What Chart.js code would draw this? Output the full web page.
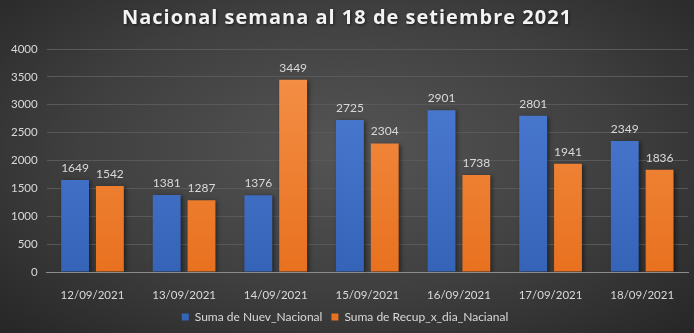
<!DOCTYPE html>
<html lang="es">
	<head>
		<meta charset="UTF-8" />
		<title>Nacional semana al 18 de setiembre 2021</title>
		<script src="https://cdn.jsdelivr.net/npm/chart.js@4"></script>
		<style>
			html,
			body {
				margin: 0;
				padding: 0;
			}
			body {
				width: 694px;
				height: 333px;
				background: radial-gradient(ellipse at 50% 45%, #555555 0%, #3f3f3f 55%, #262626 100%);
			}
			.chart-container {
				position: relative;
				width: 694px;
				height: 333px;
			}
		</style>
	</head>
	<body>
		<div class="chart-container">
			<canvas id="weekly-chart"></canvas>
		</div>
		<script>
			// Data
			const fechas = ['12/09/2021', '13/09/2021', '14/09/2021', '15/09/2021', '16/09/2021', '17/09/2021', '18/09/2021']
			const nuevNacional = [1649, 1381, 1376, 2725, 2901, 2801, 2349]
			const recupNacional = [1542, 1287, 3449, 2304, 1738, 1941, 1836]
			const yTicks = [0, 500, 1000, 1500, 2000, 2500, 3000, 3500, 4000]

			const FONT = 'Lato, "Open Sans", sans-serif'

			// vertical gradient for bars
			function barGradient(top, bottom) {
				return function (context) {
					const area = context.chart.chartArea
					if (!area) return bottom
					const g = context.chart.ctx.createLinearGradient(0, area.top, 0, area.bottom)
					g.addColorStop(0, top)
					g.addColorStop(1, bottom)
					return g
				}
			}

			// Value labels above the bars
			const valueLabels = {
				id: 'valueLabels',
				afterDatasetsDraw(chart) {
					const ctx = chart.ctx
					ctx.save()
					ctx.font = '12px ' + FONT
					ctx.fillStyle = '#d9d9d9'
					ctx.textAlign = 'center'
					ctx.textBaseline = 'bottom'
					chart.data.datasets.forEach((ds, i) => {
						chart.getDatasetMeta(i).data.forEach((bar, j) => {
							ctx.fillText(ds.data[j], bar.x, bar.y - 6)
						})
					})
					ctx.restore()
				},
			}

			// Soft shadow under bars
			const barShadow = {
				id: 'barShadow',
				beforeDatasetsDraw(chart) {
					const ctx = chart.ctx
					ctx.save()
					ctx.shadowColor = 'rgba(0, 0, 0, 0.45)'
					ctx.shadowBlur = 4
					ctx.shadowOffsetX = 2
					ctx.shadowOffsetY = 1
				},
				afterDatasetsDraw(chart) {
					chart.ctx.restore()
				},
			}

			// Title drawn by hand, with letter spacing and shadow
			const titleText = {
				id: 'titleText',
				afterDraw(chart) {
					const ctx = chart.ctx
					ctx.save()
					ctx.font = 'bold 20px "Open Sans", sans-serif'
					ctx.letterSpacing = '1px'
					ctx.fillStyle = '#f2f2f2'
					ctx.textAlign = 'center'
					ctx.textBaseline = 'middle'
					ctx.shadowColor = 'rgba(0, 0, 0, 0.6)'
					ctx.shadowBlur = 3
					ctx.shadowOffsetX = 1
					ctx.shadowOffsetY = 1
					ctx.fillText('Nacional semana al 18 de setiembre 2021', chart.width / 2, 18)
					ctx.restore()
				},
			}

			const ctx = document.getElementById('weekly-chart').getContext('2d')
			new Chart(ctx, {
				type: 'bar',
				data: {
					labels: fechas,
					datasets: [
						{
							label: 'Suma de Nuev_Nacional',
							data: nuevNacional,
							backgroundColor: barGradient('#4f7fd6', '#3563b8'),
							categoryPercentage: 0.76,
							barPercentage: 0.8,
						},
						{
							label: 'Suma de Recup_x_dia_Nacianal',
							data: recupNacional,
							backgroundColor: barGradient('#f5924a', '#e8711f'),
							categoryPercentage: 0.76,
							barPercentage: 0.8,
						},
					],
				},
				options: {
					responsive: true,
					maintainAspectRatio: false,
					animation: false,
					layout: {
						padding: { left: 2, right: 6, top: 49, bottom: 0 },
					},
					plugins: {
						title: { display: false },
						legend: {
							position: 'bottom',
							labels: {
								color: '#d9d9d9',
								font: { family: FONT, size: 12 },
								boxWidth: 7,
								boxHeight: 7,
								padding: 9,
							},
						},
						tooltip: { enabled: false },
					},
					scales: {
						x: {
							grid: { display: false },
							border: { color: '#8c8c8c', width: 1 },
							ticks: { color: '#d9d9d9', font: { family: FONT, size: 11.5 }, padding: 8 },
							afterFit(axis) {
								axis.height = 30
							},
						},
						y: {
							min: 0,
							max: 4000,
							afterBuildTicks(axis) {
								axis.ticks = yTicks.map(v => ({ value: v }))
							},
							grid: { color: '#595959', lineWidth: 1, drawTicks: false },
							border: { display: false },
							ticks: {
								color: '#d9d9d9',
								font: { family: FONT, size: 11.5 },
								padding: 9,
								callback: v => String(v),
							},
						},
					},
				},
				plugins: [barShadow, valueLabels, titleText],
			})
		</script>
	</body>
</html>
